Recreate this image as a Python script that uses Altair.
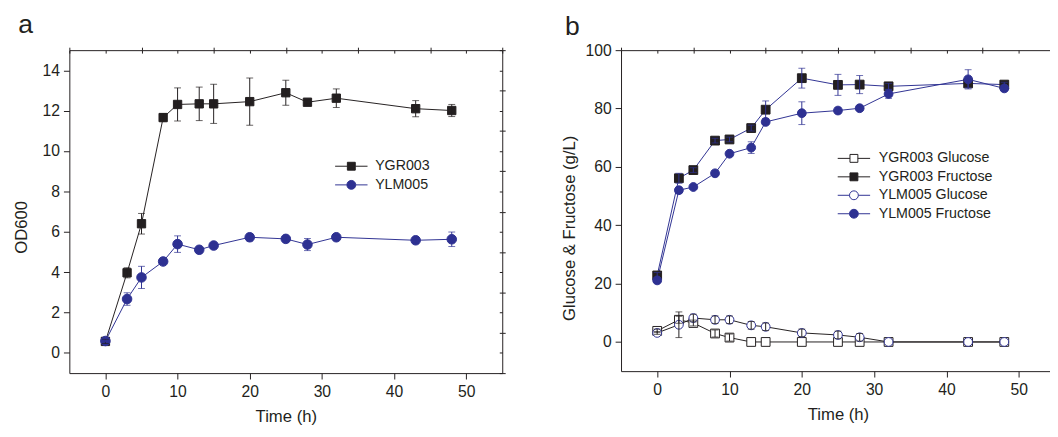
import altair as alt
import pandas as pd

# ---------------- data ----------------
time_h = [0, 3, 5, 8, 10, 13, 15, 20, 25, 28, 32, 43, 48]

od_names = ["YGR003", "YLM005"]
od_ygr003 = [0.57, 3.97, 6.40, 11.66, 12.31, 12.34, 12.34, 12.45, 12.89, 12.42, 12.62, 12.10, 12.01]
od_ygr003_err = [0.10, 0.25, 0.51, 0.20, 0.82, 0.83, 0.97, 1.17, 0.62, 0.10, 0.46, 0.40, 0.30]
od_ylm005 = [0.59, 2.67, 3.74, 4.53, 5.39, 5.11, 5.32, 5.73, 5.65, 5.37, 5.73, 5.58, 5.63]
od_ylm005_err = [0.05, 0.31, 0.55, 0.10, 0.41, 0.10, 0.10, 0.18, 0.10, 0.30, 0.10, 0.15, 0.36]

sugar_names = ["YGR003 Glucose", "YGR003 Fructose", "YLM005 Glucose", "YLM005 Fructose"]
ygr_glucose = [3.8, 7.6, 6.5, 2.9, 1.5, 0, 0, 0, 0, 0, 0, 0, 0]
ygr_glucose_err = [0.6, 1.2, 1.0, 1.2, 1.2, 0, 0, 0, 0, 0, 0, 0, 0]
ygr_fructose = [22.8, 56.1, 58.9, 69.0, 69.4, 73.3, 79.6, 90.4, 88.1, 88.2, 87.6, 88.6, 88.2]
ygr_fructose_err = [1.0, 1.7, 0.8, 0.8, 0.8, 1.0, 3.0, 3.4, 3.6, 3.1, 1.0, 1.5, 0.8]
ylm_glucose = [3.1, 5.9, 8.2, 7.6, 7.6, 5.7, 5.2, 3.1, 2.4, 1.6, 0, 0, 0]
ylm_glucose_err = [0.5, 4.4, 1.3, 1.3, 1.3, 1.3, 1.3, 1.3, 1.3, 1.3, 0, 0, 0]
ylm_fructose = [21.1, 52.0, 53.1, 57.8, 64.5, 66.6, 75.4, 78.4, 79.3, 80.1, 85.0, 90.0, 86.9]
ylm_fructose_err = [0.8, 1.0, 0.8, 0.8, 0.8, 2.0, 1.0, 3.9, 1.0, 0.8, 1.5, 3.3, 1.0]

x_major = [0, 10, 20, 30, 40, 50]
x_minor = [-5, 5, 15, 25, 35, 45, 55]
od_major = [0, 2, 4, 6, 8, 10, 12, 14]
od_minor = [-1, 1, 3, 5, 7, 9, 11, 13, 15]
sugar_major = [0, 20, 40, 60, 80, 100]
sugar_minor = [-10, 10, 30, 50, 70, 90]

BLACK = "#231f20"
BLUE = "#2e3192"
FONT = "Liberation Sans"

SQ_LINE = "M-3,0H-0.73M0.73,0H3M-0.73,-0.73H0.73V0.73H-0.73Z"
CI_LINE = ("M-3,0H-0.82M0.82,0H3M-0.82,0A0.82,0.82 0 1,0 0.82,0"
           "A0.82,0.82 0 1,0 -0.82,0Z")


def long_df(items):
    rows = []
    for name, vals, errs in items:
        for t, v, e in zip(time_h, vals, errs):
            rows.append({"t": t, "v": v, "lo": v - e, "hi": v + e, "series": name})
    return pd.DataFrame(rows)


df_od = long_df([("YGR003", od_ygr003, od_ygr003_err),
                 ("YLM005", od_ylm005, od_ylm005_err)])
df_sugar = long_df([("YGR003 Glucose", ygr_glucose, ygr_glucose_err),
                    ("YGR003 Fructose", ygr_fructose, ygr_fructose_err),
                    ("YLM005 Glucose", ylm_glucose, ylm_glucose_err),
                    ("YLM005 Fructose", ylm_fructose, ylm_fructose_err)])


def panel(df, names, strokes, fills, shapes, sizes, leg_paths, ydom, y_major,
          y_minor, ytitle, width, height, legx, legy, legfont, legoff, legrow,
          title, title_offset, title_dx, ytx, yty):
    xs = alt.Scale(domain=[-5, 55], nice=False, zero=False)
    ys = alt.Scale(domain=ydom, nice=False, zero=False)
    color = alt.Color("series:N", scale=alt.Scale(domain=names, range=strokes), legend=None)
    base = alt.Chart(df)

    line = base.mark_line(strokeWidth=1).encode(
        x=alt.X("t:Q", scale=xs, axis=alt.Axis(values=x_major, tickSize=6, title="Time (h)",
                                               titlePadding=9, labelPadding=5)),
        y=alt.Y("v:Q", scale=ys, axis=alt.Axis(values=y_major, tickSize=6, title=ytitle,
                                               titleX=ytx, titleY=yty, labelPadding=4)),
        color=color,
    )
    pts = base.mark_point(strokeWidth=1, opacity=1).encode(
        x=alt.X("t:Q", scale=xs, axis=None),
        y=alt.Y("v:Q", scale=ys, axis=None),
        shape=alt.Shape("series:N", scale=alt.Scale(domain=names, range=shapes), legend=None),
        stroke=alt.Stroke("series:N", scale=alt.Scale(domain=names, range=strokes), legend=None),
        fill=alt.Fill("series:N", scale=alt.Scale(domain=names, range=fills), legend=None),
        size=alt.Size("series:N", scale=alt.Scale(domain=names, range=sizes), legend=None),
    )
    rules = base.transform_filter("datum.hi > datum.lo").mark_rule(strokeWidth=1).encode(
        x=alt.X("t:Q", scale=xs, axis=alt.Axis(values=x_minor, tickSize=3, labels=False, title="")),
        y=alt.Y("lo:Q", scale=ys, axis=alt.Axis(values=y_minor, tickSize=3, labels=False, title="")),
        y2="hi:Q",
        color=color,
    )
    caps = base.transform_filter("datum.hi > datum.lo").transform_fold(
        ["lo", "hi"], as_=["k", "cv"]
    ).mark_tick(orient="horizontal", size=7, thickness=1).encode(
        x=alt.X("t:Q", scale=xs, axis=alt.Axis(orient="top", values=sorted(x_major + x_minor),
                                               tickSize=3, offset=-3, labels=False, title="")),
        y=alt.Y("cv:Q", type="quantitative", scale=ys,
                axis=alt.Axis(orient="right", values=sorted(y_major + y_minor), tickSize=3,
                              offset=-3, labels=False, title="")),
        color=color,
    )
    lg = alt.Legend(orient="none", legendX=legx, legendY=legy, title=None, symbolSize=121,
                    symbolStrokeWidth=1, labelFont=FONT, labelFontSize=legfont,
                    labelColor=BLACK, labelOffset=legoff, rowPadding=legrow)
    leg = base.transform_filter("false").mark_point(strokeWidth=1, opacity=1).encode(
        x=alt.X("t:Q", scale=xs, axis=None),
        y=alt.Y("v:Q", scale=ys, axis=None),
        shape=alt.Shape("series:N", scale=alt.Scale(domain=names, range=leg_paths), legend=lg),
        stroke=alt.Stroke("series:N", scale=alt.Scale(domain=names, range=strokes), legend=lg),
        fill=alt.Fill("series:N", scale=alt.Scale(domain=names, range=fills), legend=lg),
    )
    return alt.layer(line, pts, rules, caps, leg).resolve_scale(
        shape="independent", stroke="independent", fill="independent", size="independent"
    ).resolve_axis(x="independent", y="independent").properties(
        width=width, height=height,
        title=alt.TitleParams(title, anchor="start", fontSize=27, fontWeight="normal",
                              font=FONT, color=BLACK, offset=title_offset, dx=title_dx),
    )


pa = panel(df_od, od_names, [BLACK, BLUE], [BLACK, BLUE], ["square", "circle"], [72, 95],
           [SQ_LINE, CI_LINE], [-1, 15], od_major, od_minor, "OD600", 441, 329,
           280, 111, 14.5, 17, 4, "a", 8, 6, -40, 180)
pb = panel(df_sugar, sugar_names, [BLACK, BLACK, BLUE, BLUE], ["white", BLACK, "white", BLUE],
           ["square", "square", "circle", "circle"], [80, 80, 86, 86],
           [SQ_LINE, SQ_LINE, CI_LINE, CI_LINE], [-10, 100], sugar_major, sugar_minor,
           "Glucose & Fructose (g/L)", 442, 327, 230, 103, 14.5, 18, 3.8, "b", 1, 4, -43, 181)

chart = alt.hconcat(pa, pb, spacing=55).properties(
    padding={"left": 3.5, "top": -1, "right": -9, "bottom": 0}
).configure_view(stroke=BLACK, strokeWidth=1).configure_axis(
    grid=False, domain=False, labelFont=FONT, labelFontSize=16, labelColor=BLACK,
    titleFont=FONT, titleFontSize=17, titleFontWeight="normal", titleColor=BLACK,
    tickColor=BLACK, tickWidth=1, labelPadding=3,
)

chart.save("out.html", embed_options={"renderer": "svg", "actions": False})
